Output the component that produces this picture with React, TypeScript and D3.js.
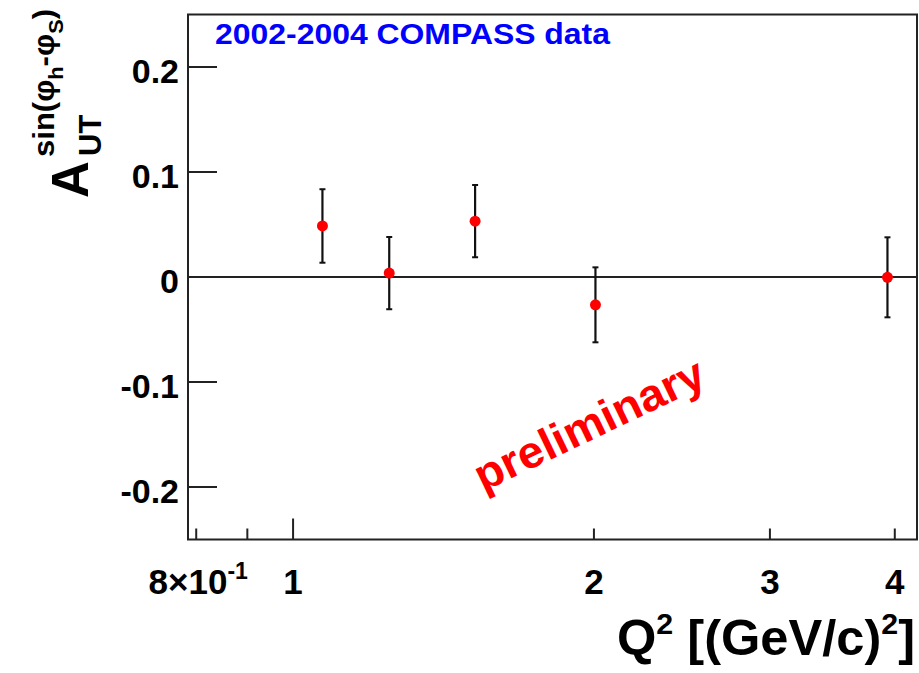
import React from "react";
import * as d3 from "d3";

// Q² bin centres, measured asymmetry and its statistical error
const q2 = [1.07, 1.248, 1.521, 2.007, 3.933];
const asym = [0.0486, 0.0037, 0.0532, -0.0265, -0.0003];
const asymErr = [0.035, 0.0344, 0.0344, 0.0357, 0.0381];

// axis ticks
const yTicks = [-0.2, -0.1, 0, 0.1, 0.2];
const yTickLabels = ["-0.2", "-0.1", "0", "0.1", "0.2"];
const xTicks = [0.8, 0.9, 1, 2, 3, 4];
const xTickLabels = ["8×10", "", "1", "2", "3", "4"];
const xDecadeTicks = [1];

const W = 919;
const H = 673;
const frame = { left: 188, right: 917, top: 14.5, bottom: 539.5 };
const FONT = "'Liberation Sans', Arial, Helvetica, sans-serif";

export default function App() {
  const x = d3.scaleLog().domain([0.785, 4.21]).range([frame.left, frame.right]);
  const y = d3.scaleLinear().domain([-0.25, 0.25]).range([frame.bottom, frame.top]);

  const points = q2.map((q, i) => ({ q, a: asym[i], e: asymErr[i] }));

  return (
    <svg
      width={W}
      height={H}
      style={{ position: "absolute", left: 0, top: 0, background: "#fff" }}
      fontFamily={FONT}
      fontWeight="bold"
    >
      <rect x={0} y={0} width={W} height={H} fill="#fff" />

      {/* zero line */}
      <line x1={frame.left} x2={frame.right} y1={y(0)} y2={y(0)} stroke="#222" strokeWidth={2} />

      {/* error bars and markers */}
      {points.map((p, i) => (
        <g key={i}>
          <line x1={x(p.q)} x2={x(p.q)} y1={y(p.a + p.e)} y2={y(p.a - p.e)} stroke="#111" strokeWidth={2.2} />
          <line x1={x(p.q) - 3} x2={x(p.q) + 3} y1={y(p.a + p.e)} y2={y(p.a + p.e)} stroke="#111" strokeWidth={2} />
          <line x1={x(p.q) - 3} x2={x(p.q) + 3} y1={y(p.a - p.e)} y2={y(p.a - p.e)} stroke="#111" strokeWidth={2} />
          <circle cx={x(p.q)} cy={y(p.a)} r={5.5} fill="#ff0000" />
        </g>
      ))}

      {/* frame */}
      <rect
        x={frame.left}
        y={frame.top}
        width={frame.right - frame.left}
        height={frame.bottom - frame.top}
        fill="none"
        stroke="#222"
        strokeWidth={2}
      />

      {/* y axis ticks and labels */}
      {yTicks.map((t, i) => (
        <g key={t}>
          <line x1={frame.left} x2={frame.left + 29} y1={y(t)} y2={y(t)} stroke="#222" strokeWidth={2} />
          <text x={179} y={y(t) + 16} textAnchor="end" fontSize={34} fill="#000">
            {yTickLabels[i]}
          </text>
        </g>
      ))}

      {/* x axis ticks and labels */}
      {xTicks.map((t, i) => {
        const len = xDecadeTicks.includes(t) ? 21 : 11;
        return (
          <g key={t}>
            <line x1={x(t)} x2={x(t)} y1={frame.bottom} y2={frame.bottom - len} stroke="#222" strokeWidth={2} />
            {xTickLabels[i] !== "" && (
              <text x={x(t) + (t === 0.8 ? 2 : 0)} y={594} textAnchor="middle" fontSize={35} fill="#000">
                {xTickLabels[i]}
                {t === 0.8 && (
                  <tspan fontSize={23} dy={-15}>
                    -1
                  </tspan>
                )}
              </text>
            )}
          </g>
        );
      })}

      {/* x axis title */}
      <text x={915} y={655} textAnchor="end" fontSize={50} fill="#000" textLength={298} lengthAdjust="spacingAndGlyphs">
        Q
        <tspan fontSize={30} dy={-21}>2</tspan>
        <tspan dy={21}> [(GeV/c)</tspan>
        <tspan fontSize={30} dy={-21}>2</tspan>
        <tspan dy={21}>]</tspan>
      </text>

      {/* y axis title */}
      <text transform="translate(88,198) rotate(-90)" fontSize={51} fill="#000">
        A
      </text>
      <text transform="translate(101,156) rotate(-90)" fontSize={31} fill="#000">
        UT
      </text>
      <text transform="translate(54,157) rotate(-90)" fontSize={30} fill="#000" textLength={148} lengthAdjust="spacingAndGlyphs">
        sin(φ
        <tspan fontSize={21} dy={9}>h</tspan>
        <tspan dy={-9}>-φ</tspan>
        <tspan fontSize={21} dy={9}>S</tspan>
        <tspan dy={-9}>)</tspan>
      </text>

      {/* title */}
      <text x={215} y={44} fontSize={29} fill="#0000ff" textLength={395} lengthAdjust="spacingAndGlyphs">
        2002-2004 COMPASS data
      </text>

      {/* watermark */}
      <text transform="translate(483,492) rotate(-25.5)" fontSize={45} fill="#ff0000" textLength={250} lengthAdjust="spacingAndGlyphs">
        preliminary
      </text>
    </svg>
  );
}
